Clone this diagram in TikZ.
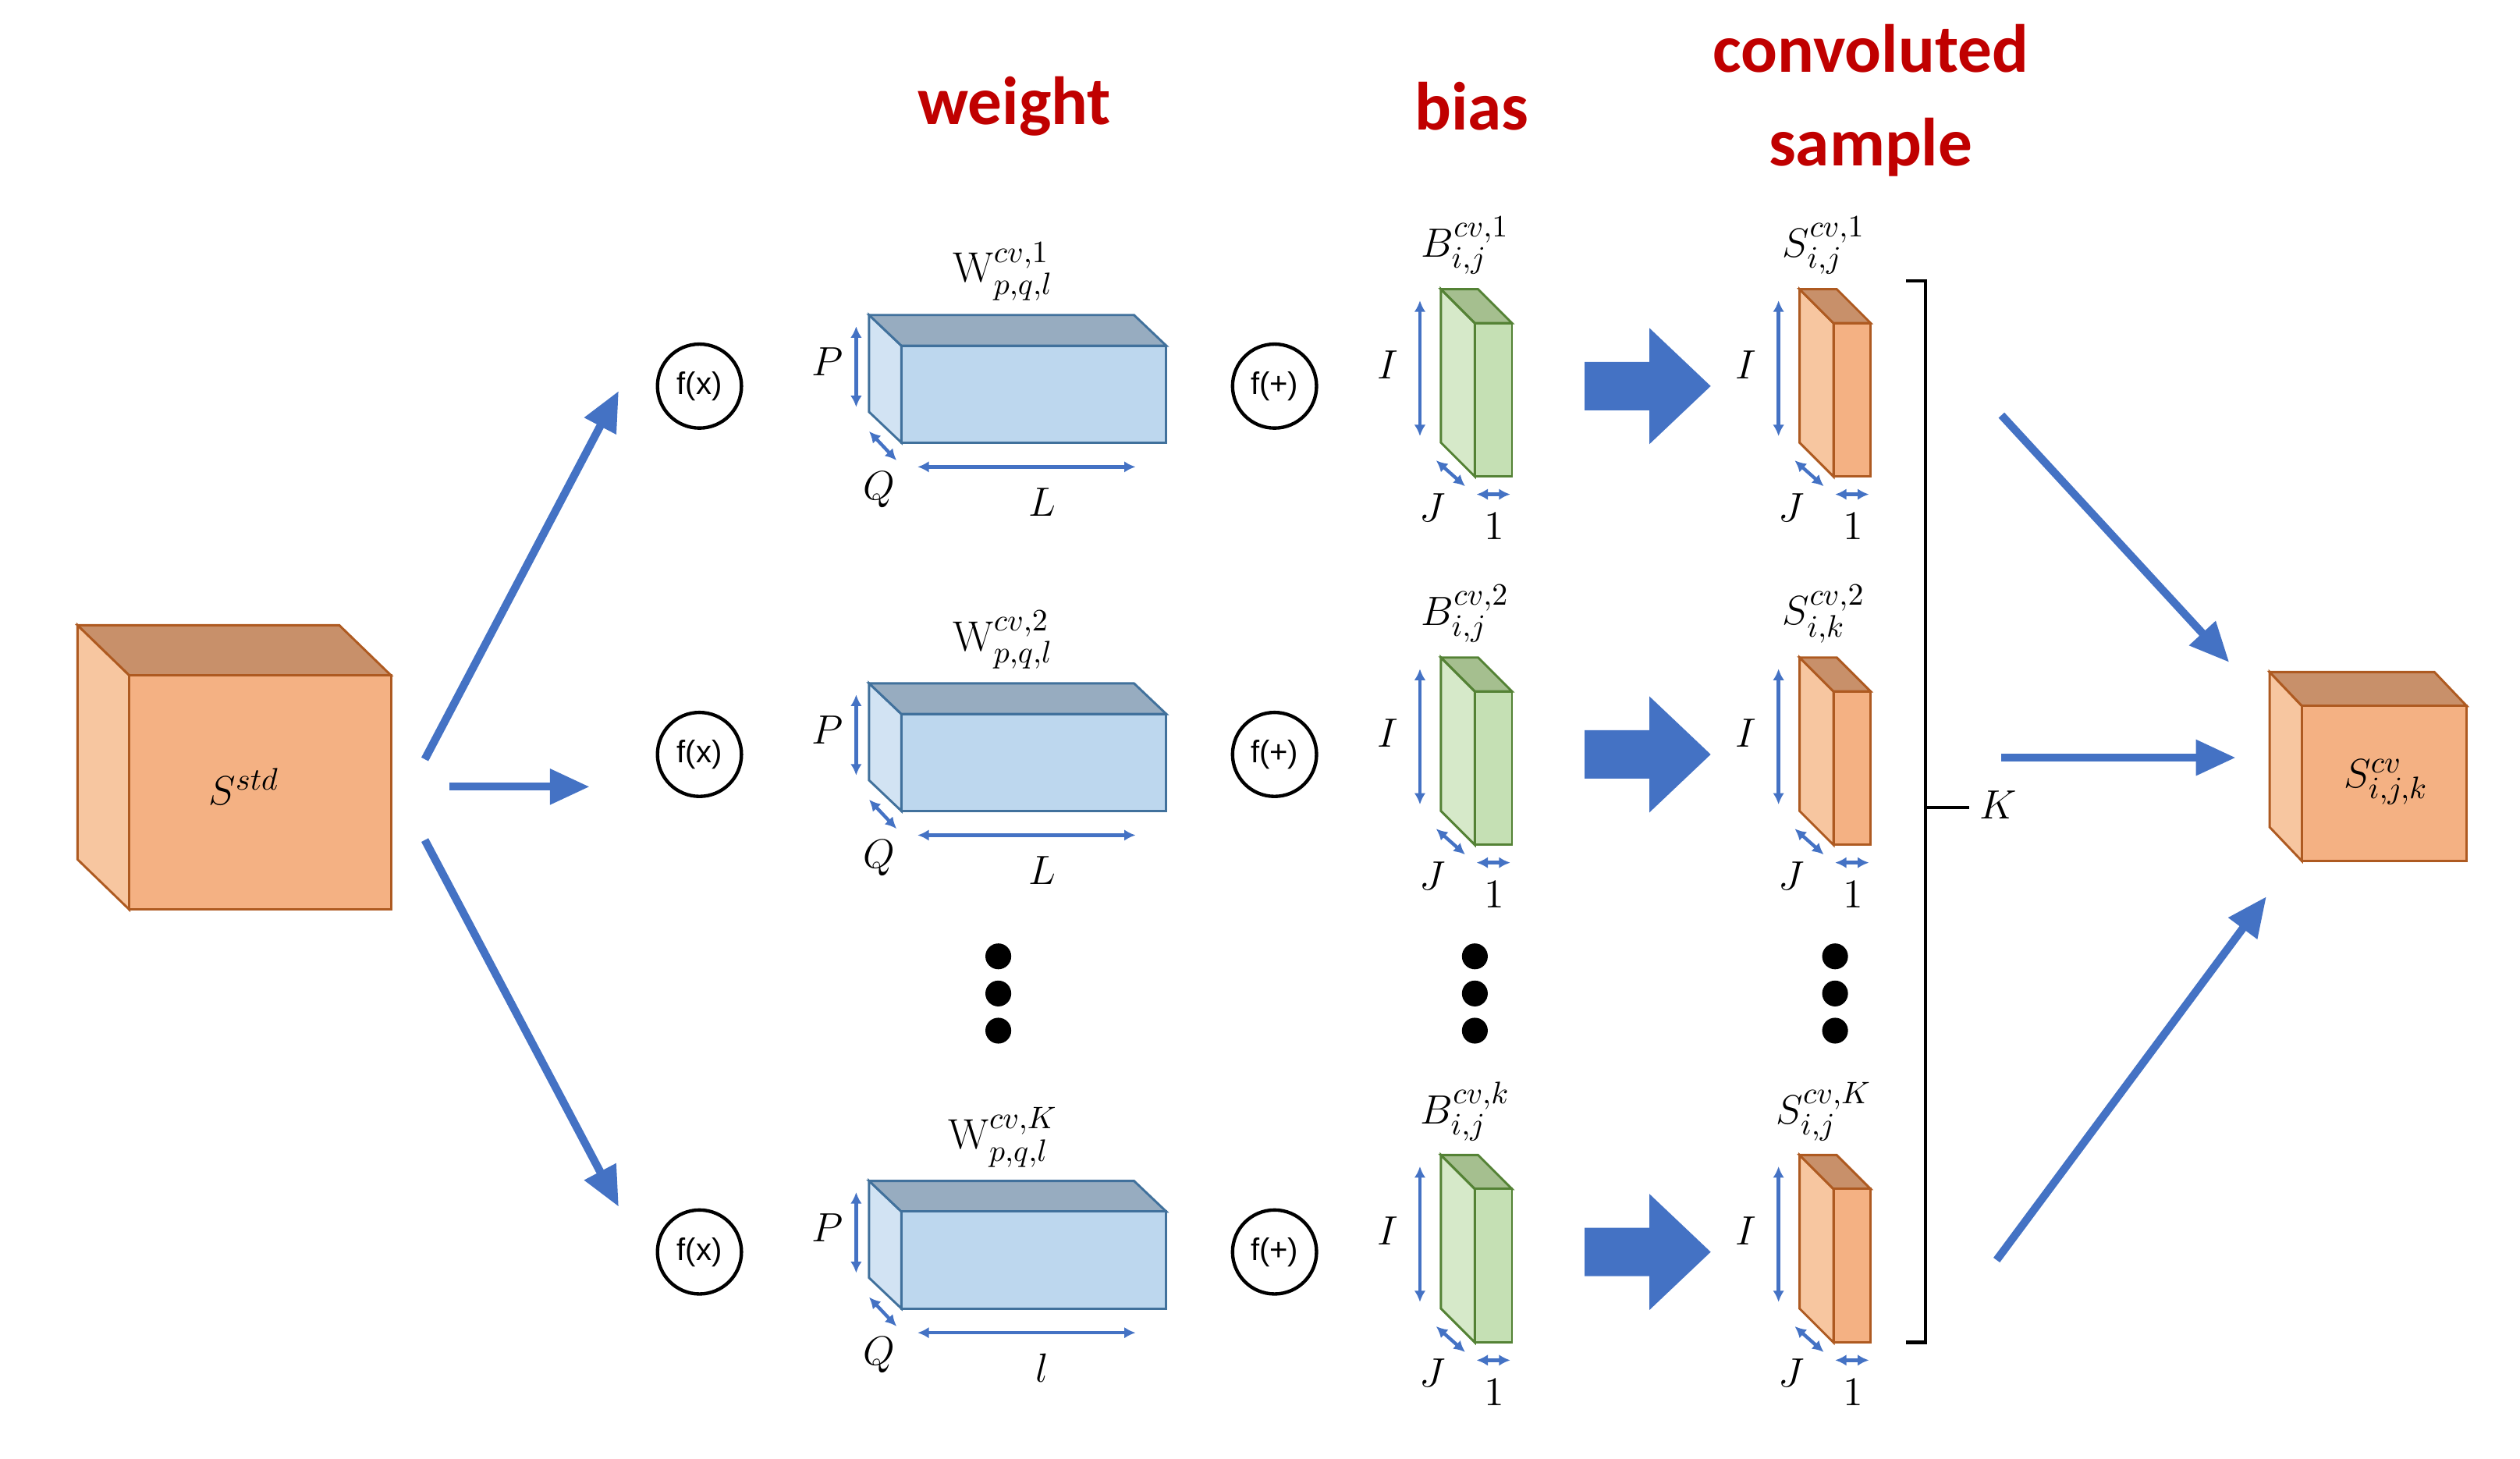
\documentclass[tikz,border=0pt]{standalone}
\usepackage{fontspec}
\newfontfamily\titlefont{Carlito}
\newfontfamily\sansf{Liberation Sans}
\usetikzlibrary{arrows.meta,calc}
\definecolor{ablue}{HTML}{4472C4}
\definecolor{dred}{HTML}{C00000}
\definecolor{wfront}{HTML}{BDD7EE}\definecolor{wtop}{HTML}{97ACC0}\definecolor{wside}{HTML}{D2E3F3}\definecolor{wline}{HTML}{41719C}
\definecolor{gfront}{HTML}{C5E0B4}\definecolor{gtop}{HTML}{A5BF8F}\definecolor{gside}{HTML}{D6E9C9}\definecolor{gline}{HTML}{548235}
\definecolor{ofront}{HTML}{F4B183}\definecolor{otop}{HTML}{C8906A}\definecolor{oside}{HTML}{F7C6A0}\definecolor{oline}{HTML}{AE5A21}
\newcommand\mycuboid[8]{% x1 y1 x2 y2 dx dy colorprefix linecolor
  \fill[#7side,draw=#8,line width=0.8pt] (#1,#2) -- ++(#5,#6) -- ($(#1,#4)+(#5,#6)$) -- (#1,#4) -- cycle;
  \fill[#7top,draw=#8,line width=0.8pt] (#1,#2) -- ++(#5,#6) -- ($(#3,#2)+(#5,#6)$) -- (#3,#2) -- cycle;
  \fill[#7front,draw=#8,line width=0.8pt] (#1,#2) rectangle (#3,#4);}
\tikzset{
  big/.style={ablue,line width=2.8pt,-{Triangle[length=14pt,width=12pt]}},
  dbl/.style={ablue,line width=1.2pt,{Latex[length=4pt,width=4pt]}-{Latex[length=4pt,width=4pt]}},
  op/.style={circle,draw,line width=1.2pt,minimum size=1.04cm,inner sep=0pt,font=\sansf\fontsize{11}{12}\selectfont},
  ttl/.style={text=dred,font=\titlefont\bfseries\fontsize{24}{29}\selectfont,align=center},
  lab/.style={font=\fontsize{15}{17}\selectfont},
  dim/.style={font=\fontsize{14}{16}\selectfont},
  dot/.style={circle,fill=black,minimum size=0.32cm,inner sep=0pt},
}
\begin{document}
\begin{tikzpicture}[x=0.02cm,y=-0.02cm]
\useasboundingbox (0,0) rectangle (1560,903);
% titles
\node[ttl] (tw) at (628,66) {weight};
\node[ttl] (tb) at (911,66) {bias};
\node[ttl] (ts) at (1158,62) {convoluted\\[4pt]sample};
% input cube
\mycuboid{80}{418}{242}{563}{-32}{-31}{o}{oline}
\node[lab] (S) at (151,487) {$S^{std}$};
\coordinate (o1) at (263,470); \coordinate (o2) at (278,487); \coordinate (o3) at (263,520);
\coordinate (e1) at (383,242); \coordinate (e2) at (365,487); \coordinate (e3) at (383,747);
\draw[big] (o1) -- (e1); \draw[big] (o2) -- (e2); \draw[big] (o3) -- (e3);
% rows
\foreach \dy/\ws/\bs/\ssub/\ss/\Lt/\r in {0/1/1/{i,j}/1/L/1, 228/2/2/{i,k}/2/L/2, 536/K/k/{i,j}/K/l/3}{
  \begin{scope}[yshift=-\dy*0.02cm]
  \node[op] (fx\r) at (433,239) {f(x)};
  \node[op] (fp\r) at (789,239) {f(+)};
  % weight
  \mycuboid{558}{214}{722}{274}{-20}{-19}{w}{wline}
  \node[lab] (W\r) at (621,168) {$\mathrm{W}^{cv,\ws}_{p,q,l}$};
  \draw[dbl] (530,202) -- (530,252); \node[dim] (P\r) at (512,224) {$P$};
  \draw[dbl] (538,267) -- (555,285); \node[dim] (Q\r) at (544,303) {$Q$};
  \draw[dbl] (568,289) -- (703,289); \node[dim] (L\r) at (645,311) {$\Lt$};
  % bias
  \mycuboid{913}{200}{936}{295}{-21}{-21}{g}{gline}
  \node[lab] (B\r) at (907,152) {$B^{cv,\bs}_{i,j}$};
  \draw[dbl] (879,186) -- (879,270); \node[dim] (I\r) at (859,226) {$I$};
  \draw[dbl] (889,285) -- (907,301); \node[dim] (J\r) at (887,314) {$J$};
  \draw[dbl] (914,306) -- (935,306); \node[dim] (one\r) at (925,326) {$1$};
  % block arrow
  \fill[ablue] (981,224) -- (1021,224) -- (1021,203) -- (1059,239) -- (1021,275) -- (1021,254) -- (981,254) -- cycle;
  % sample
  \mycuboid{1135}{200}{1158}{295}{-21}{-21}{o}{oline}
  \node[lab] (Sr\r) at (1129,152) {$S^{cv,\ss}_{\ssub}$};
  \draw[dbl] (1101,186) -- (1101,270); \node[dim] (Is\r) at (1081,226) {$I$};
  \draw[dbl] (1111,285) -- (1129,301); \node[dim] (Js\r) at (1109,314) {$J$};
  \draw[dbl] (1136,306) -- (1157,306); \node[dim] (ones\r) at (1147,326) {$1$};
  \end{scope}}
% dots
\foreach \x/\n in {618/a,913/b,1136/c}{\foreach \y/\m in {592/1,615/2,638/3}{\node[dot] (d\n\m) at (\x,\y) {};}}
% bracket
\draw[line width=1.2pt] (1180,174) -- (1192,174) -- (1192,831) -- (1180,831);
\draw[line width=1.2pt] (1192,500) -- (1219,500);
\node[dim] (K) at (1237,498) {$K$};
% output
\coordinate (a1) at (1239,257); \coordinate (b1) at (1380,410);
\coordinate (a2) at (1239,469); \coordinate (b2) at (1384,469);
\coordinate (a3) at (1236,780); \coordinate (b3) at (1403,555);
\draw[big] (a1) -- (b1); \draw[big] (a2) -- (b2); \draw[big] (a3) -- (b3);
\mycuboid{1425}{437}{1527}{533}{-20}{-21}{o}{oline}
\node[lab] (Sout) at (1477,484) {$S^{cv}_{i,j,k}$};
\end{tikzpicture}
\end{document}
